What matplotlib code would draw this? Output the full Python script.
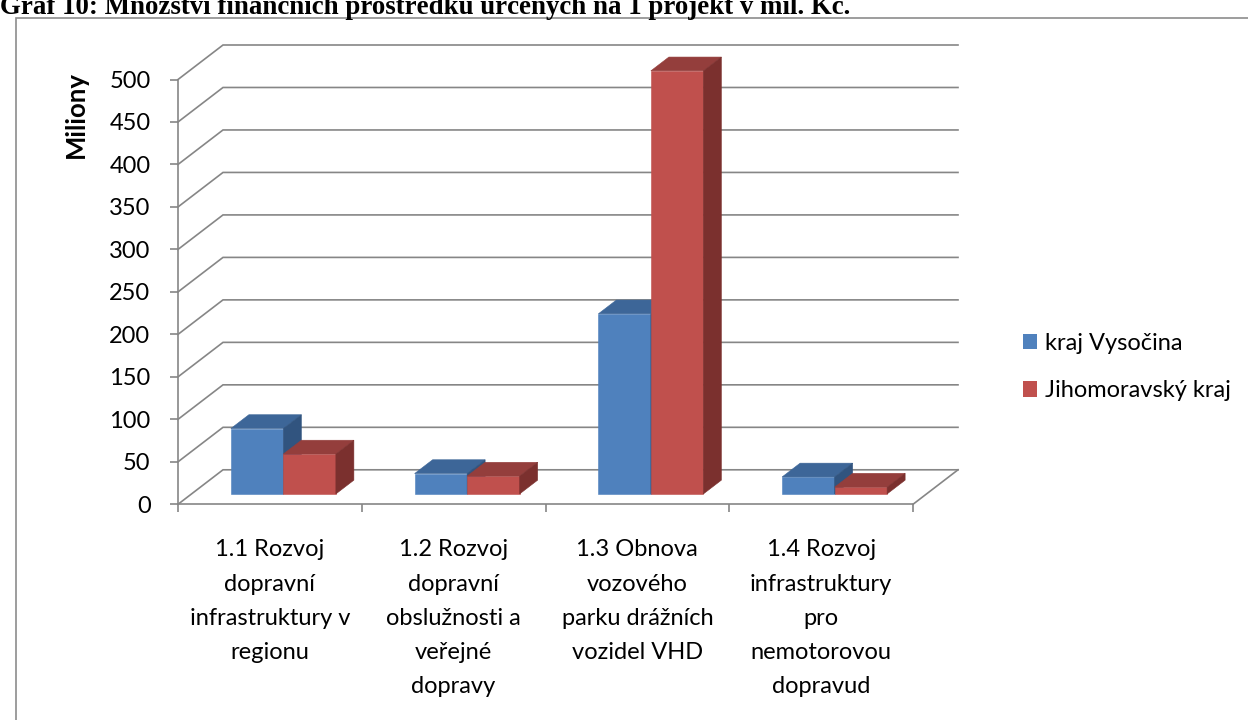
import matplotlib
matplotlib.use('Agg')
import matplotlib.pyplot as plt
from matplotlib.patches import Polygon, Patch, Rectangle
from matplotlib.lines import Line2D

categories = ["1.1 Rozvoj\ndopravní\ninfrastruktury v\nregionu",
              "1.2 Rozvoj\ndopravní\nobslužnosti a\nveřejné\ndopravy",
              "1.3 Obnova\nvozového\nparku drážních\nvozidel VHD",
              "1.4 Rozvoj\ninfrastruktury\npro\nnemotorovou\ndopravud"]
series_names = ["kraj Vysočina", "Jihomoravský kraj"]
vysocina = [77, 24, 212, 20]
jihomoravsky = [47, 21, 498, 8]
y_ticks = list(range(0, 501, 50))
title = "Graf 10: Množství finančních prostředků určených na 1 projekt v mil. Kč."
y_label = "Miliony"

FONT = ['Lato', 'DejaVu Sans']
FS = 17
plt.rcParams['font.family'] = FONT

W, H = 1248, 720
fig = plt.figure(figsize=(12.48, 7.2), dpi=100)
ax_h = 424.8
ax = fig.add_axes([178 / W, (H - 504.3) / H, 735 / W, ax_h / H])
ax.set_xlim(0, 4)
ax.set_ylim(0, 500)
ax.patch.set_visible(False)

GRID = '#868686'
LW = 1.2
DX = 45 / 183.75            # depth offset (category units)
DY = 34.5 / (ax_h / 500)    # depth offset (value units)


def P(x, v, d):
    return (x + d * DX, v + d * DY)


# walls / gridlines
for v in y_ticks:
    pts = [P(0, v, 0), P(0, v, 1), P(len(categories), v, 1)]
    ax.add_line(Line2D([p[0] for p in pts], [p[1] for p in pts], color=GRID,
                       lw=LW, clip_on=False, zorder=1, solid_joinstyle='miter'))
pts = [P(len(categories), 0, 0), P(len(categories), 0, 1)]
ax.add_line(Line2D([p[0] for p in pts], [p[1] for p in pts], color=GRID,
                   lw=LW, clip_on=False, zorder=1))

for s in ['top', 'right']:
    ax.spines[s].set_visible(False)
for s in ['left', 'bottom']:
    ax.spines[s].set_color(GRID)
    ax.spines[s].set_linewidth(LW)
    ax.spines[s].set_zorder(2)

ax.set_yticks(y_ticks)
ax.set_yticklabels([str(t) for t in y_ticks])
ax.tick_params(axis='y', direction='out', length=5.8, width=LW, color=GRID,
               labelsize=FS, pad=14, labelcolor='black')
ax.set_xticks(range(len(categories) + 1))
ax.set_xticklabels([])
ax.tick_params(axis='x', direction='out', length=5.8, width=LW, color=GRID)

for i, lab in enumerate(categories):
    ax.text(i + 0.5, -35 / ax_h, lab, transform=ax.get_xaxis_transform(),
            ha='center', va='top', fontsize=FS, linespacing=1.78)

# bars
w = 1 / 3.5
d0, d1 = 0.3, 0.7
styles = [('#4F81BD', '#3D6698', '#31547F'), ('#C0504D', '#943E3C', '#7B302E')]
for i in range(len(categories)):
    for j, vals in enumerate([vysocina, jihomoravsky]):
        v = vals[i]
        x0 = i + 0.5 - w + j * w
        x1 = x0 + w
        front, top, side = styles[j]
        faces = [
            ([P(x0, 0, d0), P(x1, 0, d0), P(x1, v, d0), P(x0, v, d0)], front),
            ([P(x0, v, d0), P(x1, v, d0), P(x1, v, d1), P(x0, v, d1)], top),
            ([P(x1, 0, d0), P(x1, 0, d1), P(x1, v, d1), P(x1, v, d0)], side),
        ]
        for k, (poly, col) in enumerate(faces):
            ax.add_patch(Polygon(poly, closed=True, facecolor=col, edgecolor=col,
                                 lw=0.4, clip_on=False, zorder=3 + i * 0.1 + j * 0.01))

# axis title
fig.text(76 / W, 1 - 114 / H, y_label, rotation=90, ha='center', va='center',
         fontsize=18.5, fontweight='bold')

# legend
handles = [Patch(facecolor=styles[0][0], edgecolor='none'),
           Patch(facecolor=styles[1][0], edgecolor='none')]
fig.legend(handles, series_names, loc='center left',
           bbox_to_anchor=(1011 / W, 1 - 367 / H), frameon=False, fontsize=FS,
           handlelength=0.62, handleheight=0.62, handletextpad=0.3,
           labelspacing=1.13, borderpad=0)

# chart border and cut-off caption
fig.add_artist(Rectangle((16 / W, -0.1), 1.2, 1.1 - 18 / H, transform=fig.transFigure,
                         fill=False, edgecolor='#8c8c8c', lw=1.2))
fig.text(0, 1 - 14 / H, title, ha='left', va='baseline', fontsize=19.4,
         fontweight='bold', family=['Liberation Serif', 'DejaVu Serif'])

fig.savefig('out.png', dpi=100)
